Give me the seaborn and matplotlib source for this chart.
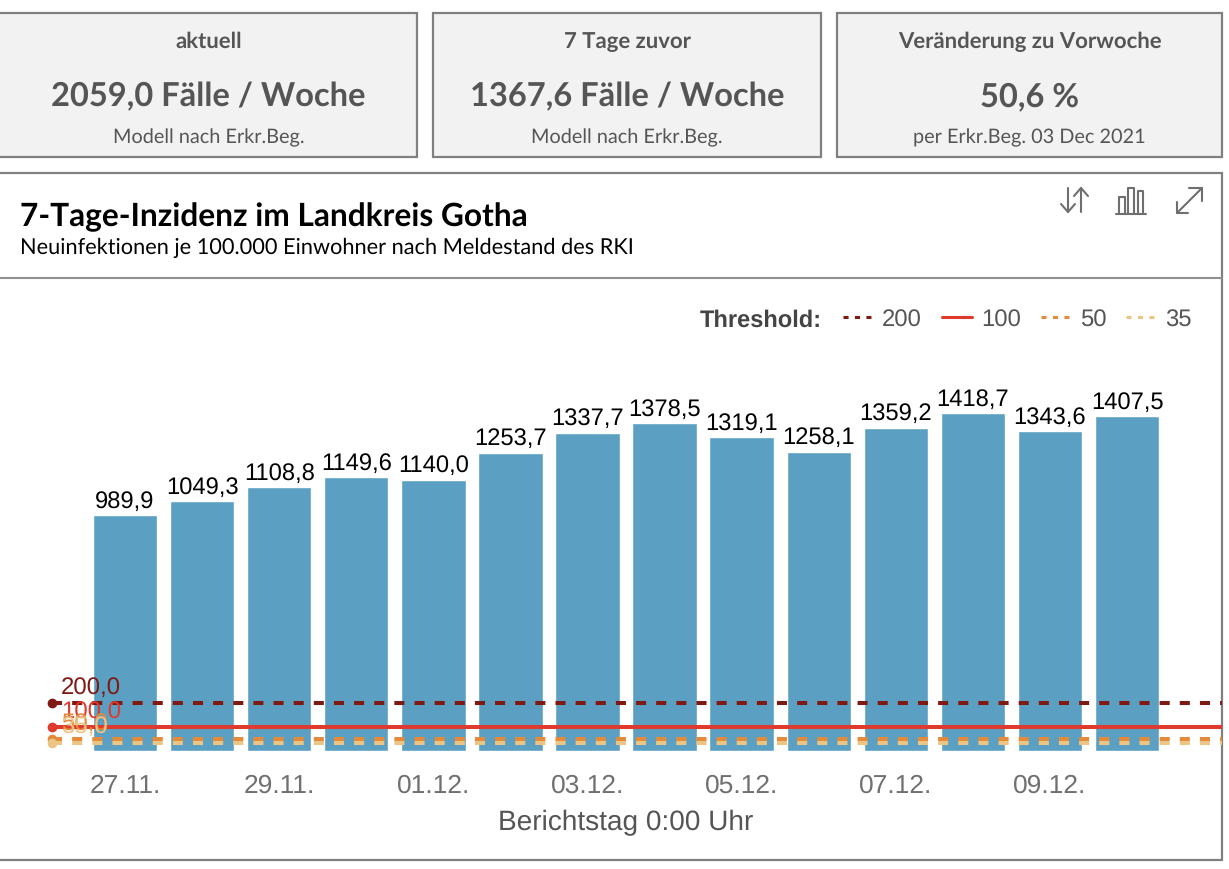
import matplotlib
matplotlib.use("Agg")
import matplotlib.pyplot as plt
from matplotlib.lines import Line2D
from matplotlib.patches import Rectangle
import seaborn as sns

# chart data
days = ["27.11.", "28.11.", "29.11.", "30.11.", "01.12.", "02.12.", "03.12.",
        "04.12.", "05.12.", "06.12.", "07.12.", "08.12.", "09.12.", "10.12."]
incidence = [989.9, 1049.3, 1108.8, 1149.6, 1140.0, 1253.7, 1337.7,
             1378.5, 1319.1, 1258.1, 1359.2, 1418.7, 1343.6, 1407.5]

thresholds = [200, 100, 50, 35]
threshold_colors = ["#7f1a12", "#df3a2e", "#e38b3a", "#ecc585"]
threshold_dashes = [(2.5, 2.5), None, (2.5, 2.5), (2.5, 2.5)]

# KPI cards
card_titles = ["aktuell", "7 Tage zuvor", "Veränderung zu Vorwoche"]
card_values = ["2059,0 Fälle / Woche", "1367,6 Fälle / Woche", "50,6 %"]
card_notes = ["Modell nach Erkr.Beg.", "Modell nach Erkr.Beg.", "per Erkr.Beg. 03 Dec 2021"]
card_spans = [(-10, 417), (433, 821), (837, 1222)]

W, H = 1229, 870
BAR_COLOR = "#5ba0c3"
BORDER = "#808080"

sns.set_theme(style="white")
plt.rcParams["font.family"] = ["Liberation Sans", "DejaVu Sans"]
plt.rcParams["text.hinting"] = "no_hinting"

fig = plt.figure(figsize=(W / 100, H / 100), dpi=100)

# background layer in pixel coordinates for the dashboard frame
bg = fig.add_axes([0, 0, 1, 1], zorder=0)
bg.set_xlim(0, W)
bg.set_ylim(H, 0)
bg.axis("off")

for (x0, x1), title, value, note in zip(card_spans, card_titles, card_values, card_notes):
    bg.add_patch(Rectangle((x0, 14), x1 - x0, 144, facecolor="#f2f2f2", edgecolor=BORDER, linewidth=1.6))
    cx = (max(x0, 0) + x1) / 2
    bg.text(cx, 42, title, family="Lato", weight="bold", fontsize=15.9, color="#555555", ha="center", va="center")
    bg.text(cx, 97, value, family="Lato", weight="bold", fontsize=23.5, color="#555555", ha="center", va="center")
    bg.text(cx, 138, note, family="Lato", fontsize=14.3, color="#555555", ha="center", va="center")

bg.add_patch(Rectangle((-10, 174), 1232, 687, facecolor="white", edgecolor=BORDER, linewidth=1.6))
bg.plot([-10, 1222], [279, 279], color="#909090", lw=1.5)
bg.text(20, 217, "7-Tage-Inzidenz im Landkreis Gotha", family="Lato", weight="bold", fontsize=22.8,
        color="black", ha="left", va="center")
bg.text(20, 248, "Neuinfektionen je 100.000 Einwohner nach Meldestand des RKI", family="Lato",
        fontsize=15.65, color="black", ha="left", va="center")

# toolbar icons
icon = dict(color="#6f6f6f", lw=1.5, solid_capstyle="round")
bg.plot([1068, 1068], [189, 213], **icon)
bg.plot([1061, 1068, 1075], [205, 213, 205], **icon)
bg.plot([1081, 1081], [213, 189], **icon)
bg.plot([1074, 1081, 1088], [197, 189, 197], **icon)
bg.plot([1116, 1146], [214.5, 214.5], **icon)
bg.plot([1118.5, 1118.5, 1124.5, 1124.5], [214, 198, 198, 214], **icon)
bg.plot([1128, 1128, 1134, 1134], [214, 189, 189, 214], **icon)
bg.plot([1138, 1138, 1143, 1143], [214, 192, 192, 214], **icon)
bg.plot([1177, 1202], [214, 189], **icon)
bg.plot([1177, 1177, 1188], [203, 214, 214], **icon)
bg.plot([1189, 1202, 1202], [189, 189, 202], **icon)

# chart axes, left edge sits on the threshold start points
PX_LEFT, PX_RIGHT, PX_TOP, PX_BOTTOM = 52, 1222, 301, 752
ax = fig.add_axes([PX_LEFT / W, 1 - PX_BOTTOM / H, (PX_RIGHT - PX_LEFT) / W, (PX_BOTTOM - PX_TOP) / H], zorder=1)
ax.patch.set_alpha(0)

sns.barplot(x=days, y=incidence, color=BAR_COLOR, saturation=1, width=0.835, ax=ax, zorder=2)
ax.bar_label(ax.containers[0], labels=[f"{v:.1f}".replace(".", ",") for v in incidence],
             padding=2.5, fontsize=17.1, color="black", zorder=5)

step = 77.08
ax.set_xlim((PX_LEFT - 125) / step, (PX_RIGHT - 125) / step)
ax.set_ylim(0, (PX_BOTTOM - PX_TOP) / 0.238)

handles = []
for value, color, dash in zip(thresholds, threshold_colors, threshold_dashes):
    ls = "-" if dash is None else (0, dash)
    ax.axhline(value, color=color, lw=2.9, ls=ls, zorder=3)
    ax.plot([ax.get_xlim()[0]], [value], "o", color=color, ms=6, clip_on=False, zorder=4)
    ax.annotate(f"{value:.1f}".replace(".", ","), (ax.get_xlim()[0], value), xytext=(6.5, 4),
                textcoords="offset points", fontsize=17.3, color=color, ha="left", va="bottom", zorder=6)
    legend_ls = "-" if dash is None else (0, (1.65, 2.1))
    handles.append(Line2D([], [], color=color, lw=2.2, ls=legend_ls, label=str(value)))

ax.set_xticks(range(0, len(days), 2), days[::2])
ax.tick_params(axis="x", length=0, pad=16, labelsize=19, labelcolor="#707070")
ax.set_xlabel("Berichtstag 0:00 Uhr", fontsize=20.2, color="#555555", labelpad=8, x=(625.5 - PX_LEFT) / (PX_RIGHT - PX_LEFT))
ax.get_yaxis().set_visible(False)
sns.despine(ax=ax, left=True, bottom=True)

bg.text(822, 321, "Threshold:", weight="bold", fontsize=17, color="#444444", ha="right", va="center")
ax.legend(handles=handles, ncols=4, frameon=False, loc="center right", bbox_to_anchor=(1192, 320.5),
          bbox_transform=bg.transData, fontsize=17.2, labelcolor="#555555", handlelength=1.25,
          handletextpad=0.39, columnspacing=0.83, borderpad=0, borderaxespad=0)

fig.savefig("out.png", dpi=100)
